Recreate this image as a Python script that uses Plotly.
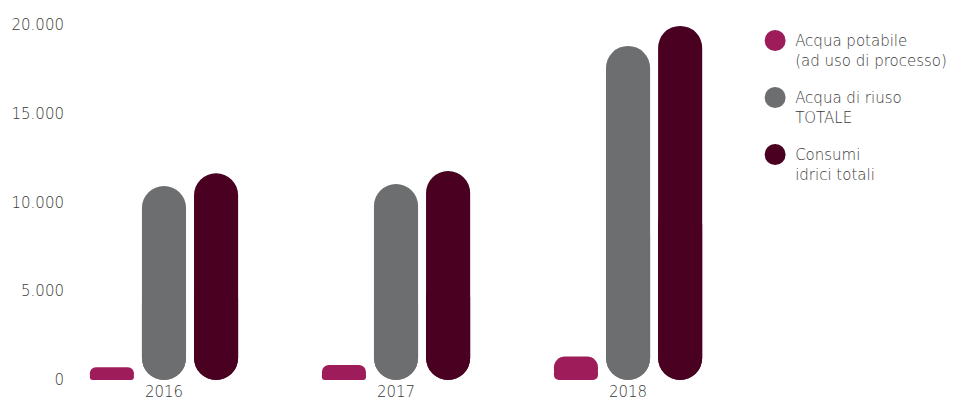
import plotly.graph_objects as go

years = ["2016", "2017", "2018"]
acqua_potabile = [715, 845, 1325]
acqua_riuso = [10930, 11040, 18820]
consumi_totali = [11650, 11775, 19950]

series_names = ["Acqua potabile<br>(ad uso di processo)", "Acqua di riuso<br>TOTALE", "Consumi<br>idrici totali"]
colors = ["#9e1c5a", "#6d6e70", "#4a0021"]
y_ticks = [0, 5000, 10000, 15000, 20000]

# layout geometry
W, H = 953, 403
ML, MR, MT, MB = 70, 208, 15, 18
plot_h = H - MT - MB
y_range = [-282, 20563]
px_per_unit = plot_h / (y_range[1] - y_range[0])
bar_w = 0.19
gap = 0.0345
offsets = [-1.5 * bar_w - gap, -0.5 * bar_w, 0.5 * bar_w + gap]
half_w_px = 22

fig = go.Figure()
all_series = [acqua_potabile, acqua_riuso, consumi_totali]
for s, vals in enumerate(all_series):
    for i, v in enumerate(vals):
        r = min(half_w_px, v / 2 * px_per_unit)
        # full bar rounded at top
        fig.add_trace(go.Bar(
            x=[years[i]], y=[v], base=0, width=bar_w, offset=offsets[s],
            marker=dict(color=colors[s], line=dict(width=0), cornerradius=r),
            showlegend=False, hoverinfo="skip"))
        # lower half rounded at bottom
        fig.add_trace(go.Bar(
            x=[years[i]], y=[-v / 2], base=v / 2, width=bar_w, offset=offsets[s],
            marker=dict(color=colors[s], line=dict(width=0), cornerradius=r),
            showlegend=False, hoverinfo="skip"))

for s, name in enumerate(series_names):
    fig.add_trace(go.Scatter(
        x=[None], y=[None], mode="markers", name=name, legendgroup=str(s),
        marker=dict(symbol="circle", size=16, color=colors[s], line=dict(color=colors[s], width=5))))

font_family = "'DejaVu Sans ExtraLight', 'DejaVu Sans', sans-serif"
txt_color = "#3a3a3a"
fig.update_layout(
    width=W, height=H,
    margin=dict(l=ML, r=MR, t=MT, b=MB, autoexpand=False),
    barmode="overlay",
    plot_bgcolor="white", paper_bgcolor="white",
    separators=",.",
    font=dict(family=font_family, size=15, color=txt_color, weight=200),
    showlegend=True,
    legend=dict(x=1.015, y=0.975, xanchor="left", yanchor="top", valign="top",
                tracegroupgap=15, font=dict(family=font_family, size=15, color=txt_color, weight=200),
                itemsizing="trace"),
    xaxis=dict(type="category", categoryorder="array", categoryarray=years,
               range=[-0.405, 2.504], showgrid=False, zeroline=False, showline=False,
               ticks="", ticklabelstandoff=-4,
               tickfont=dict(family=font_family, size=15, color=txt_color, weight=200), automargin=False),
    yaxis=dict(range=y_range, tickvals=y_ticks, tickformat=",d", showgrid=False,
               zeroline=False, showline=False, ticks="", ticklabelstandoff=5,
               tickfont=dict(family=font_family, size=15, color=txt_color, weight=200), automargin=False),
)

fig.write_html("out.html")
